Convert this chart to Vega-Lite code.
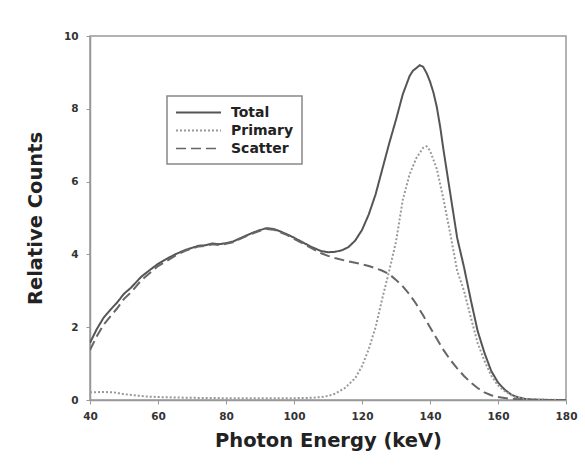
{
  "$schema": "https://vega.github.io/schema/vega-lite/v6.json",
  "width": 476,
  "height": 364,
  "autosize": {"type": "none"},
  "padding": {"left": 90, "top": 36, "right": 19, "bottom": 72},
  "background": "white",
  "config": {
    "view": {"stroke": "#999999", "strokeWidth": 1.5},
    "font": "DejaVu Sans"
  },
  "datasets": {
    "spectra": [
      {"E": 40, "C": 1.57, "s": "Total"}, {"E": 42, "C": 1.95, "s": "Total"}, {"E": 44, "C": 2.26, "s": "Total"}, {"E": 46, "C": 2.48, "s": "Total"}, {"E": 48, "C": 2.68, "s": "Total"}, {"E": 50, "C": 2.92, "s": "Total"}, {"E": 52, "C": 3.08, "s": "Total"}, {"E": 55, "C": 3.38, "s": "Total"}, {"E": 58, "C": 3.6, "s": "Total"}, {"E": 60, "C": 3.74, "s": "Total"}, {"E": 62, "C": 3.85, "s": "Total"}, {"E": 65, "C": 4.0, "s": "Total"}, {"E": 68, "C": 4.12, "s": "Total"}, {"E": 70, "C": 4.18, "s": "Total"}, {"E": 72, "C": 4.24, "s": "Total"}, {"E": 74, "C": 4.25, "s": "Total"}, {"E": 76, "C": 4.3, "s": "Total"}, {"E": 78, "C": 4.28, "s": "Total"}, {"E": 80, "C": 4.31, "s": "Total"}, {"E": 82, "C": 4.35, "s": "Total"}, {"E": 85, "C": 4.48, "s": "Total"}, {"E": 88, "C": 4.6, "s": "Total"}, {"E": 90, "C": 4.67, "s": "Total"}, {"E": 92, "C": 4.72, "s": "Total"}, {"E": 94, "C": 4.7, "s": "Total"}, {"E": 96, "C": 4.63, "s": "Total"}, {"E": 98, "C": 4.55, "s": "Total"}, {"E": 100, "C": 4.46, "s": "Total"}, {"E": 102, "C": 4.36, "s": "Total"}, {"E": 105, "C": 4.21, "s": "Total"}, {"E": 108, "C": 4.09, "s": "Total"}, {"E": 110, "C": 4.06, "s": "Total"}, {"E": 112, "C": 4.07, "s": "Total"}, {"E": 114, "C": 4.11, "s": "Total"}, {"E": 116, "C": 4.2, "s": "Total"}, {"E": 118, "C": 4.38, "s": "Total"}, {"E": 120, "C": 4.67, "s": "Total"}, {"E": 122, "C": 5.1, "s": "Total"}, {"E": 124, "C": 5.65, "s": "Total"}, {"E": 126, "C": 6.35, "s": "Total"}, {"E": 128, "C": 7.05, "s": "Total"}, {"E": 130, "C": 7.7, "s": "Total"}, {"E": 132, "C": 8.4, "s": "Total"}, {"E": 134, "C": 8.9, "s": "Total"}, {"E": 135, "C": 9.05, "s": "Total"}, {"E": 136, "C": 9.12, "s": "Total"}, {"E": 137, "C": 9.2, "s": "Total"}, {"E": 138, "C": 9.15, "s": "Total"}, {"E": 139, "C": 8.98, "s": "Total"}, {"E": 140, "C": 8.75, "s": "Total"}, {"E": 141, "C": 8.45, "s": "Total"}, {"E": 142, "C": 8.05, "s": "Total"}, {"E": 143, "C": 7.5, "s": "Total"}, {"E": 144, "C": 6.85, "s": "Total"}, {"E": 146, "C": 5.65, "s": "Total"}, {"E": 148, "C": 4.45, "s": "Total"}, {"E": 150, "C": 3.65, "s": "Total"}, {"E": 152, "C": 2.75, "s": "Total"}, {"E": 154, "C": 1.9, "s": "Total"}, {"E": 156, "C": 1.3, "s": "Total"}, {"E": 158, "C": 0.8, "s": "Total"}, {"E": 160, "C": 0.48, "s": "Total"}, {"E": 162, "C": 0.28, "s": "Total"}, {"E": 164, "C": 0.14, "s": "Total"}, {"E": 166, "C": 0.07, "s": "Total"}, {"E": 168, "C": 0.03, "s": "Total"}, {"E": 170, "C": 0.01, "s": "Total"}, {"E": 175, "C": 0, "s": "Total"}, {"E": 180, "C": 0, "s": "Total"},

      {"E": 40, "C": 0.21, "s": "Primary"}, {"E": 44, "C": 0.22, "s": "Primary"}, {"E": 47, "C": 0.21, "s": "Primary"}, {"E": 50, "C": 0.16, "s": "Primary"}, {"E": 53, "C": 0.13, "s": "Primary"}, {"E": 56, "C": 0.1, "s": "Primary"}, {"E": 60, "C": 0.08, "s": "Primary"}, {"E": 70, "C": 0.06, "s": "Primary"}, {"E": 80, "C": 0.05, "s": "Primary"}, {"E": 90, "C": 0.05, "s": "Primary"}, {"E": 100, "C": 0.05, "s": "Primary"}, {"E": 105, "C": 0.06, "s": "Primary"}, {"E": 108, "C": 0.08, "s": "Primary"}, {"E": 110, "C": 0.11, "s": "Primary"}, {"E": 112, "C": 0.17, "s": "Primary"}, {"E": 115, "C": 0.33, "s": "Primary"}, {"E": 118, "C": 0.6, "s": "Primary"}, {"E": 120, "C": 0.93, "s": "Primary"}, {"E": 122, "C": 1.4, "s": "Primary"}, {"E": 124, "C": 2.0, "s": "Primary"}, {"E": 126, "C": 2.8, "s": "Primary"}, {"E": 128, "C": 3.55, "s": "Primary"}, {"E": 130, "C": 4.35, "s": "Primary"}, {"E": 132, "C": 5.5, "s": "Primary"}, {"E": 134, "C": 6.2, "s": "Primary"}, {"E": 136, "C": 6.65, "s": "Primary"}, {"E": 138, "C": 6.93, "s": "Primary"}, {"E": 139, "C": 6.97, "s": "Primary"}, {"E": 140, "C": 6.85, "s": "Primary"}, {"E": 142, "C": 6.35, "s": "Primary"}, {"E": 144, "C": 5.5, "s": "Primary"}, {"E": 146, "C": 4.55, "s": "Primary"}, {"E": 148, "C": 3.55, "s": "Primary"}, {"E": 150, "C": 3.0, "s": "Primary"}, {"E": 152, "C": 2.27, "s": "Primary"}, {"E": 154, "C": 1.57, "s": "Primary"}, {"E": 156, "C": 1.08, "s": "Primary"}, {"E": 158, "C": 0.67, "s": "Primary"}, {"E": 160, "C": 0.4, "s": "Primary"}, {"E": 162, "C": 0.24, "s": "Primary"}, {"E": 165, "C": 0.08, "s": "Primary"}, {"E": 168, "C": 0.03, "s": "Primary"}, {"E": 172, "C": 0.01, "s": "Primary"}, {"E": 180, "C": 0, "s": "Primary"},

      {"E": 40, "C": 1.37, "s": "Scatter"}, {"E": 42, "C": 1.75, "s": "Scatter"}, {"E": 44, "C": 2.07, "s": "Scatter"}, {"E": 46, "C": 2.3, "s": "Scatter"}, {"E": 48, "C": 2.52, "s": "Scatter"}, {"E": 50, "C": 2.78, "s": "Scatter"}, {"E": 52, "C": 2.95, "s": "Scatter"}, {"E": 55, "C": 3.28, "s": "Scatter"}, {"E": 58, "C": 3.52, "s": "Scatter"}, {"E": 60, "C": 3.68, "s": "Scatter"}, {"E": 62, "C": 3.79, "s": "Scatter"}, {"E": 65, "C": 3.96, "s": "Scatter"}, {"E": 68, "C": 4.1, "s": "Scatter"}, {"E": 70, "C": 4.16, "s": "Scatter"}, {"E": 72, "C": 4.22, "s": "Scatter"}, {"E": 74, "C": 4.23, "s": "Scatter"}, {"E": 76, "C": 4.28, "s": "Scatter"}, {"E": 78, "C": 4.26, "s": "Scatter"}, {"E": 80, "C": 4.29, "s": "Scatter"}, {"E": 82, "C": 4.33, "s": "Scatter"}, {"E": 85, "C": 4.46, "s": "Scatter"}, {"E": 88, "C": 4.58, "s": "Scatter"}, {"E": 90, "C": 4.65, "s": "Scatter"}, {"E": 92, "C": 4.7, "s": "Scatter"}, {"E": 94, "C": 4.68, "s": "Scatter"}, {"E": 96, "C": 4.61, "s": "Scatter"}, {"E": 98, "C": 4.53, "s": "Scatter"}, {"E": 100, "C": 4.43, "s": "Scatter"}, {"E": 102, "C": 4.33, "s": "Scatter"}, {"E": 105, "C": 4.18, "s": "Scatter"}, {"E": 108, "C": 4.03, "s": "Scatter"}, {"E": 110, "C": 3.96, "s": "Scatter"}, {"E": 112, "C": 3.9, "s": "Scatter"}, {"E": 115, "C": 3.83, "s": "Scatter"}, {"E": 118, "C": 3.77, "s": "Scatter"}, {"E": 120, "C": 3.73, "s": "Scatter"}, {"E": 122, "C": 3.68, "s": "Scatter"}, {"E": 124, "C": 3.62, "s": "Scatter"}, {"E": 126, "C": 3.55, "s": "Scatter"}, {"E": 128, "C": 3.46, "s": "Scatter"}, {"E": 130, "C": 3.3, "s": "Scatter"}, {"E": 132, "C": 3.12, "s": "Scatter"}, {"E": 134, "C": 2.9, "s": "Scatter"}, {"E": 136, "C": 2.63, "s": "Scatter"}, {"E": 138, "C": 2.32, "s": "Scatter"}, {"E": 140, "C": 2.0, "s": "Scatter"}, {"E": 142, "C": 1.68, "s": "Scatter"}, {"E": 144, "C": 1.37, "s": "Scatter"}, {"E": 146, "C": 1.1, "s": "Scatter"}, {"E": 148, "C": 0.87, "s": "Scatter"}, {"E": 150, "C": 0.66, "s": "Scatter"}, {"E": 152, "C": 0.48, "s": "Scatter"}, {"E": 154, "C": 0.33, "s": "Scatter"}, {"E": 156, "C": 0.21, "s": "Scatter"}, {"E": 158, "C": 0.13, "s": "Scatter"}, {"E": 160, "C": 0.08, "s": "Scatter"}, {"E": 163, "C": 0.04, "s": "Scatter"}, {"E": 166, "C": 0.02, "s": "Scatter"}, {"E": 170, "C": 0.01, "s": "Scatter"}, {"E": 175, "C": 0, "s": "Scatter"}, {"E": 180, "C": 0, "s": "Scatter"}
    ]
  },
  "data": {"name": "spectra"},
  "mark": {"type": "line", "strokeWidth": 2, "clip": true},
  "encoding": {
    "x": {
      "field": "E", "type": "quantitative",
      "scale": {"domain": [40, 180], "nice": false, "zero": false},
      "axis": {
        "title": "Photon Energy (keV)", "values": [40, 60, 80, 100, 120, 140, 160, 180],
        "grid": false, "domainColor": "#999999", "domainWidth": 1.5, "tickColor": "#999999", "tickSize": 4,
        "labelFlush": false, "labelOverlap": false,
        "labelFont": "DejaVu Sans", "labelFontWeight": "bold", "labelFontSize": 10.5, "labelColor": "#333333", "labelPadding": 7,
        "titleFont": "DejaVu Sans", "titleFontWeight": "bold", "titleFontSize": 19.5, "titleColor": "#222222", "titlePadding": 10
      }
    },
    "y": {
      "field": "C", "type": "quantitative",
      "scale": {"domain": [0, 10], "nice": false},
      "axis": {
        "title": "Relative Counts", "values": [0, 2, 4, 6, 8, 10],
        "grid": false, "domainColor": "#999999", "domainWidth": 1.5, "tickColor": "#999999", "tickSize": 4,
        "labelFlush": false, "labelOverlap": false,
        "labelFont": "DejaVu Sans", "labelFontWeight": "bold", "labelFontSize": 10.5, "labelColor": "#333333", "labelPadding": 8,
        "titleFont": "DejaVu Sans", "titleFontWeight": "bold", "titleFontSize": 19.5, "titleColor": "#222222", "titlePadding": 18
      }
    },
    "color": {
      "field": "s", "type": "nominal",
      "scale": {"domain": ["Total", "Primary", "Scatter"], "range": ["#555555", "#999999", "#666666"]},
      "legend": {
        "title": null, "orient": "none", "legendX": 77, "legendY": 60,
        "symbolType": "M-1,0H5", "symbolSize": 225, "symbolStrokeWidth": 2,
        "labelFont": "DejaVu Sans", "labelFontWeight": "bold", "labelFontSize": 14, "labelColor": "#222222",
        "labelOffset": 39, "rowPadding": 2, "padding": 8,
        "strokeColor": "#888888",
        "encode": {"legend": {"update": {"strokeWidth": {"value": 1.5}}}}
      }
    },
    "strokeDash": {
      "field": "s", "type": "nominal",
      "scale": {"domain": ["Total", "Primary", "Scatter"], "range": [[1, 0], [2, 2], [10, 5]]},
      "legend": null
    },
    "strokeWidth": {
      "field": "s", "type": "nominal",
      "scale": {"domain": ["Total", "Primary", "Scatter"], "range": [2, 1.6, 2]},
      "legend": null
    }
  }
}
